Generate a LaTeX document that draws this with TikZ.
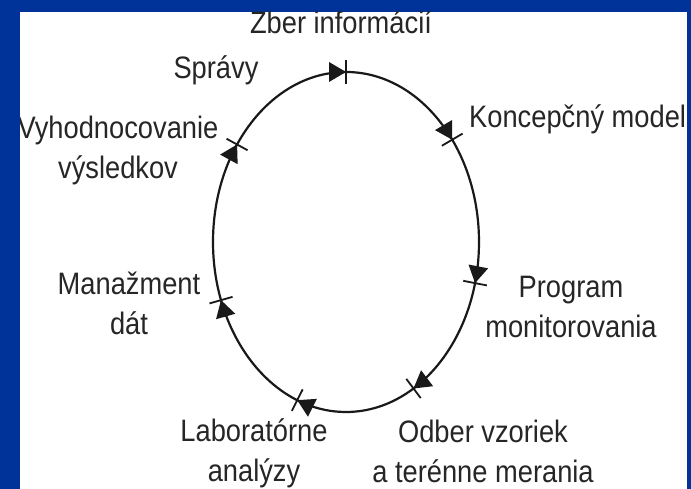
\documentclass[tikz,border=0pt]{standalone}
\usepackage{fontspec}
\setmainfont{Liberation Sans}[FakeStretch=0.88]
\usepackage{tikz}
\usetikzlibrary{calc}
\definecolor{slideblue}{RGB}{0,51,153}
\tikzset{
    cyclelabel/.style={font=\fontsize{31}{40}\selectfont, text=black!85, inner sep=0pt, align=center, anchor=base},
    cycleline/.style={line width=2.2pt, black!90},
}

\begin{document}
\begin{tikzpicture}[x=1pt, y=1pt]
    % Frame
    \useasboundingbox (0,0) rectangle (691,489);
    \fill[slideblue] (0,0) rectangle (691,489);
    \fill[white] (20,0) rectangle (687,477);

    \begin{scope}
    \clip (20,0) rectangle (687,477);

    % Cycle
    \coordinate (ctr) at (346,247);
    \draw[cycleline] (ctr) ellipse [x radius=133, y radius=170];

    % Ticks and arrow heads
    \foreach \t [count=\i] in {90,37,-14,-59.5,-111.5,200,145} {
        \pgfmathsetmacro{\rot}{atan2(-170*cos(\t),133*sin(\t))}
        \coordinate (tick\i) at ($(ctr)+(\t:133 and 170)$);
        \begin{scope}[shift={(tick\i)}, rotate=\rot]
            \fill[black!90] (0,0) -- (-17,10) -- (-17,-10) -- cycle;
            \draw[cycleline, line width=1.8pt] (0,-12) -- (0,12);
        \end{scope}
    }

    % Labels (base = last line)
    \node[cyclelabel] (zber) at (341,455) {Zber informácií};
    \node[cyclelabel] (spravy) at (216,410) {Správy};
    \node[cyclelabel] (vyhod) at (118,310) {Vyhodnocovanie\\výsledkov};
    \node[cyclelabel, anchor=base west] (koncept) at (469,361) {Koncepčný model};
    \node[cyclelabel] (program) at (571,151) {Program\\monitorovania};
    \node[cyclelabel] (odber) at (483,6) {Odber vzoriek\\a terénne merania};
    \node[cyclelabel] (labor) at (254,7) {Laboratórne\\analýzy};
    \node[cyclelabel] (manaz) at (129,154) {Manažment\\dát};
    \end{scope}
\end{tikzpicture}
\end{document}
